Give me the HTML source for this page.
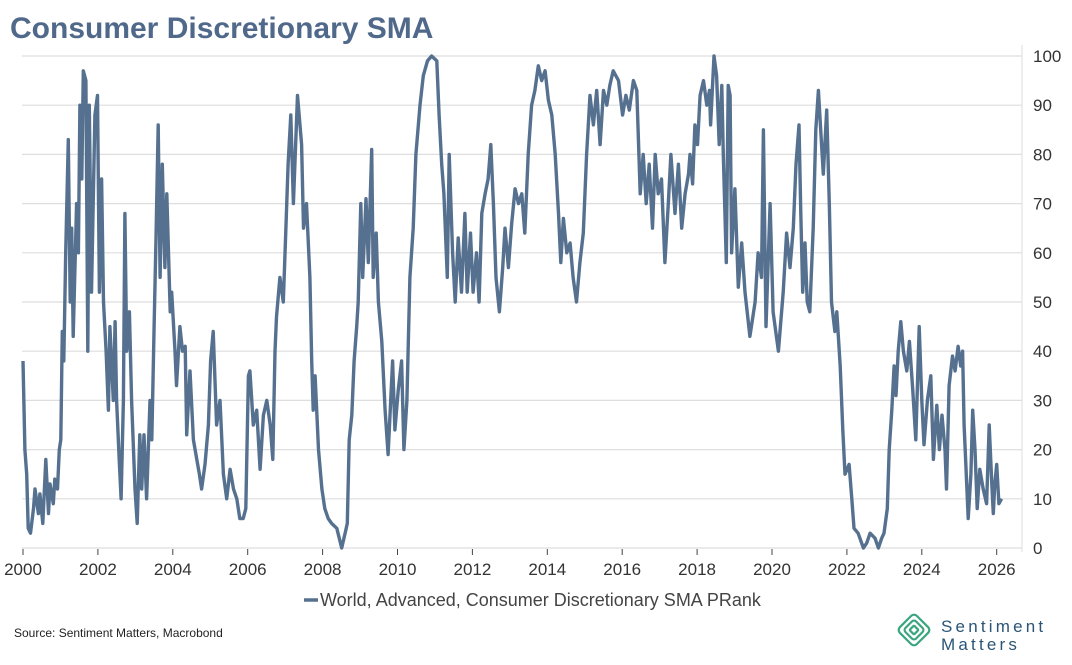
<!DOCTYPE html>
<html><head><meta charset="utf-8"><style>
body{margin:0;background:#fff;width:1072px;height:660px;overflow:hidden;font-family:"Liberation Sans",Arial,sans-serif}
</style></head><body>
<svg width="1072" height="660" viewBox="0 0 1072 660" xmlns="http://www.w3.org/2000/svg">
<text x="10" y="38" font-size="30" font-weight="bold" fill="#50698a">Consumer Discretionary SMA</text>
<g id="grid"></g>
<g id="yaxis"></g>
<g id="xaxis"></g>
<path id="series" fill="none" stroke="#56718f" stroke-width="3.4" stroke-linejoin="round"/>
<g>
<line x1="304" y1="600" x2="318" y2="600" stroke="#56718f" stroke-width="3.5"/>
<text x="320" y="606" font-size="18" fill="#444">World, Advanced, Consumer Discretionary SMA PRank</text>
</g>
<text x="14" y="637" font-size="12" fill="#222">Source: Sentiment Matters, Macrobond</text>
<g>
<g transform="translate(914,630) rotate(45)" fill="none" stroke="#3aa57f" stroke-width="2.2">
<rect x="-12" y="-12" width="24" height="24" rx="4"/>
<rect x="-7.5" y="-7.5" width="15" height="15" rx="3"/>
<rect x="-3.2" y="-3.2" width="6.4" height="6.4" rx="1"/>
</g>
<text x="941" y="632" font-size="17" fill="#2a5577" letter-spacing="3.2">Sentiment</text>
<text x="941" y="650" font-size="17" fill="#2a5577" letter-spacing="3.2">Matters</text>
</g>
</svg>
<script>
const yTicks=[0,10,20,30,40,50,60,70,80,90,100];
const xTicks=[2000,2002,2004,2006,2008,2010,2012,2014,2016,2018,2020,2022,2024,2026];
const dates=[0.00,0.05,0.10,0.14,0.20,0.28,0.32,0.41,0.45,0.53,0.61,0.68,0.72,0.81,0.85,0.92,0.97,1.01,1.05,1.09,1.14,1.21,1.26,1.30,1.34,1.43,1.48,1.52,1.57,1.61,1.68,1.73,1.77,1.83,1.92,1.99,2.04,2.10,2.15,2.22,2.28,2.32,2.41,2.46,2.50,2.57,2.62,2.68,2.72,2.77,2.84,2.90,2.99,3.05,3.12,3.17,3.23,3.30,3.39,3.44,3.50,3.55,3.61,3.66,3.72,3.79,3.84,3.93,3.97,4.06,4.10,4.19,4.26,4.33,4.37,4.46,4.55,4.64,4.71,4.77,4.86,4.95,5.01,5.08,5.17,5.26,5.35,5.44,5.53,5.62,5.71,5.79,5.88,5.95,6.02,6.06,6.15,6.24,6.33,6.42,6.51,6.60,6.67,6.73,6.77,6.86,6.95,7.02,7.08,7.15,7.22,7.33,7.44,7.49,7.57,7.66,7.71,7.75,7.80,7.89,7.98,8.06,8.15,8.24,8.38,
8.51,8.60,8.66,8.71,8.78,8.84,8.91,8.95,9.02,9.07,9.16,9.22,9.31,9.35,9.43,9.49,9.58,9.67,9.75,9.87,9.93,10.02,10.11,10.17,10.25,10.33,10.42,10.49,10.60,10.69,10.80,10.91,11.05,11.11,11.18,11.24,11.33,11.38,11.47,11.54,11.62,11.71,11.80,11.86,11.95,12.02,12.11,12.18,12.25,12.34,12.42,12.49,12.56,12.63,12.72,12.81,12.87,12.96,13.05,13.14,13.23,13.32,13.40,13.49,13.58,13.67,13.76,13.85,13.94,14.03,14.12,14.21,14.30,14.36,14.43,14.52,14.61,14.69,14.78,14.87,14.96,15.05,15.14,15.23,15.32,15.41,15.50,15.59,15.67,15.76,15.90,16.01,16.10,16.19,16.30,16.39,16.48,16.56,16.64,16.72,16.81,16.88,16.96,17.05,17.14,17.23,17.30,17.41,17.50,17.59,17.68,17.77,
17.81,17.88,17.94,18.01,18.08,18.17,18.26,18.33,18.36,18.45,18.52,18.59,18.66,18.70,18.78,18.83,18.88,18.92,19.01,19.10,19.19,19.28,19.41,19.55,19.63,19.72,19.77,19.84,19.95,20.03,20.17,20.30,20.39,20.48,20.57,20.64,20.72,20.77,20.82,20.88,20.94,21.01,21.10,21.17,21.24,21.30,21.37,21.46,21.53,21.59,21.68,21.73,21.82,21.89,21.95,22.06,22.13,22.19,22.30,22.44,22.53,22.62,22.75,22.84,22.93,22.99,23.08,23.13,23.20,23.26,23.31,23.37,23.44,23.51,23.60,23.67,23.76,23.84,23.93,24.00,24.06,24.15,24.24,24.31,24.40,24.47,24.54,24.62,24.66,24.73,24.82,24.89,24.97,25.04,25.09,25.13,25.20,25.24,25.31,25.36,25.42,25.48,25.55,25.64,25.73,25.80,25.87,25.91,25.95,26.00,26.06,26.13];
const values=[38,20,15,4,3,8,12,7,11,5,18,7,13,9,14,12,20,22,44,38,60,83,50,65,43,70,60,90,75,97,95,40,90,52,88,92,52,75,50,40,28,45,30,46,30,18,10,30,68,40,48,30,12,5,23,12,23,10,30,22,45,62,86,55,78,57,72,48,52,40,33,45,40,41,23,36,22,18,15,12,17,25,38,44,25,30,15,10,16,12,10,6,6,8,35,36,25,28,16,27,30,25,18,40,47,55,50,65,78,88,70,92,82,65,70,55,38,28,35,20,12,8,6,5,4,
0,3,5,22,27,38,45,50,70,55,71,58,81,55,64,50,42,28,19,38,24,32,38,20,30,55,65,80,90,96,99,100,99,88,78,72,55,80,60,50,63,52,68,52,64,52,60,50,68,72,75,82,70,55,48,57,65,57,66,73,70,72,64,80,90,93,98,95,97,91,88,80,68,58,67,60,62,55,50,58,64,80,92,86,93,82,93,90,94,97,95,88,92,89,95,93,72,80,70,78,65,80,72,75,58,70,80,68,78,65,72,76,
80,74,86,82,92,95,90,93,86,100,96,82,94,80,58,94,92,60,73,53,62,52,43,50,60,55,85,45,70,48,40,52,64,57,65,78,86,68,52,62,50,48,65,85,93,85,76,89,70,50,44,48,37,24,15,17,10,4,3,0,1,3,2,0,2,3,8,20,28,37,31,40,46,40,36,42,32,22,45,30,21,30,35,18,29,20,27,20,12,33,39,36,41,37,40,25,13,6,15,28,20,8,16,12,9,25,13,7,13,17,9,10];
const NS='http://www.w3.org/2000/svg';
const X0=23,PX=37.45,Y0=548,PY=4.92;
function xs(yearOffset){return X0+yearOffset*PX;}
function ys(v){return Y0-v*PY;}
const grid=document.getElementById('grid'),ya=document.getElementById('yaxis'),xa=document.getElementById('xaxis');
yTicks.forEach(t=>{
 const l=document.createElementNS(NS,'line');
 l.setAttribute('x1',22);l.setAttribute('x2',1022);l.setAttribute('y1',ys(t));l.setAttribute('y2',ys(t));
 l.setAttribute('stroke','#dedede');l.setAttribute('stroke-width',1.2);
 
 
 grid.appendChild(l);
 const tx=document.createElementNS(NS,'text');
 tx.setAttribute('x',1033);tx.setAttribute('y',ys(t)+6);tx.setAttribute('font-size','17');tx.setAttribute('fill','#333');
 tx.textContent=t;
 
 
 ya.appendChild(tx);
});
const ax=document.createElementNS(NS,'line');
ax.setAttribute('x1',1022);ax.setAttribute('x2',1022);ax.setAttribute('y1',45);ax.setAttribute('y2',552);ax.setAttribute('stroke','#dedede');


ya.appendChild(ax);
xTicks.forEach(t=>{
 const x=xs(t-2000);
 const l=document.createElementNS(NS,'line');
 l.setAttribute('x1',x);l.setAttribute('x2',x);l.setAttribute('y1',549);l.setAttribute('y2',555);l.setAttribute('stroke','#444');
 
 
 xa.appendChild(l);
 const tx=document.createElementNS(NS,'text');
 tx.setAttribute('x',x);tx.setAttribute('y',575);tx.setAttribute('font-size','17');tx.setAttribute('fill','#333');tx.setAttribute('text-anchor','middle');
 tx.textContent=t;
 
 
 xa.appendChild(tx);
});
let d='';
for(let i=0;i<dates.length;i++){d+=(i?'L':'M')+xs(dates[i]).toFixed(1)+' '+ys(values[i]).toFixed(1);}
document.getElementById('series').setAttribute('d',d);
</script>
</body></html>
